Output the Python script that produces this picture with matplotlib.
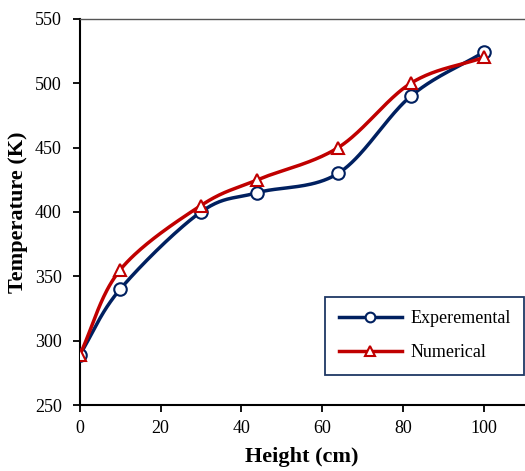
import numpy as np
from matplotlib import pyplot as plt

height = [0, 10, 30, 44, 64, 82, 100]
temp_exp = [289, 340, 400, 415, 430, 490, 524]
temp_num = [289, 355, 405, 425, 450, 500, 520]


def smooth(x, y, n=40, t=0.5):
    # catmull-rom style smoothing, like the spreadsheet "smoothed line"
    x = np.asarray(x, float)
    y = np.asarray(y, float)
    px = np.concatenate([[2 * x[0] - x[1]], x, [2 * x[-1] - x[-2]]])
    py = np.concatenate([[2 * y[0] - y[1]], y, [2 * y[-1] - y[-2]]])
    xs, ys = [], []
    for i in range(1, len(px) - 2):
        s = np.linspace(0, 1, n)
        p0, p1, p2, p3 = [np.array([px[j], py[j]]) for j in range(i - 1, i + 3)]
        m1 = t * (p2 - p0)
        m2 = t * (p3 - p1)
        h00 = 2 * s**3 - 3 * s**2 + 1
        h10 = s**3 - 2 * s**2 + s
        h01 = -2 * s**3 + 3 * s**2
        h11 = s**3 - s**2
        pts = (np.outer(h00, p1) + np.outer(h10, m1)
               + np.outer(h01, p2) + np.outer(h11, m2))
        xs.extend(pts[:, 0])
        ys.extend(pts[:, 1])
    return xs, ys


plt.rcParams['font.family'] = 'Liberation Serif'

fig = plt.figure(figsize=(5.25, 4.71), dpi=100)
ax = fig.add_axes([0.152, 0.140, 0.846, 0.820])

blue = '#002060'
red = '#C00000'

sx, sy = smooth(height, temp_exp)
ax.plot(sx, sy, color=blue, lw=2.5, zorder=2)
ax.plot(height, temp_exp, 'o', color=blue, mfc='white', mew=1.5, ms=9, zorder=3)
ax.plot([], [], '-o', color=blue, mfc='white', mew=1.5, ms=7, lw=2.5, label='Experemental')

sx, sy = smooth(height, temp_num)
ax.plot(sx, sy, color=red, lw=2.5, zorder=4)
ax.plot(height, temp_num, '^', color=red, mfc='white', mew=1.5, ms=9, zorder=5)
ax.plot([], [], '-^', color=red, mfc='white', mew=1.5, ms=7, lw=2.5, label='Numerical')

ax.set_xlim(0, 110)
ax.set_ylim(250, 550)
ax.set_xticks(range(0, 101, 20))
ax.set_yticks(range(250, 551, 50))
ax.tick_params(labelsize=13, direction='out', length=5, width=1.3)
ax.tick_params(axis='x', pad=6)
ax.tick_params(axis='y', pad=8)
ax.spines['right'].set_visible(False)
ax.spines['top'].set_color('#555555')
ax.spines['top'].set_linewidth(1.0)
for s in ['left', 'bottom']:
    ax.spines[s].set_linewidth(1.5)

ax.set_xlabel('Height (cm)', fontsize=16, fontweight='bold', labelpad=7)
ax.set_ylabel('Temperature (K)', fontsize=16, fontweight='bold', labelpad=5)

leg = ax.legend(loc='lower right', bbox_to_anchor=(1.0, 0.078), borderaxespad=0,
                fontsize=13, fancybox=False, edgecolor='#1f3864', framealpha=1,
                handlelength=3.5, handletextpad=0.45, borderpad=0.75,
                labelspacing=0.95)
leg.get_frame().set_linewidth(1.3)

plt.savefig('out.png', dpi=100)
